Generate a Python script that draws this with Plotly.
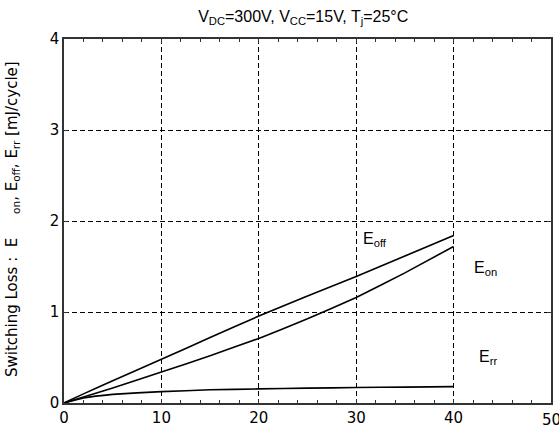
import plotly.graph_objects as go

# Collector current (A)
ic = [0, 2, 5, 10, 15, 20, 25, 30, 35, 40]
e_off = [0, 0.10, 0.245, 0.48, 0.72, 0.955, 1.175, 1.39, 1.615, 1.84]
e_on = [0, 0.065, 0.165, 0.34, 0.52, 0.71, 0.925, 1.16, 1.43, 1.72]
e_rr = [0, 0.055, 0.095, 0.125, 0.145, 0.155, 0.163, 0.17, 0.175, 0.18]

x_ticks = [0, 10, 20, 30, 40, 50]
x_labels = ["0", "10", "20", "30", "40", "50"]
y_ticks = [0, 1, 2, 3, 4]

font = "Liberation Sans, Arial, sans-serif"
wide = "DejaVu Sans, Verdana, sans-serif"

fig = go.Figure()
for ys in (e_off, e_on, e_rr):
    fig.add_trace(go.Scatter(x=ic, y=ys, mode="lines",
                             line=dict(color="black", width=1.6, shape="spline", smoothing=0.3),
                             showlegend=False, hoverinfo="skip"))

labels = [
    ("E<sub>off</sub>", 30.5, 1.80),
    ("E<sub>on</sub>", 41.9, 1.48),
    ("E<sub>rr</sub>", 42.4, 0.50),
]
for txt, x, y in labels:
    fig.add_annotation(x=x, y=y, text=txt, showarrow=False, xanchor="left", yanchor="middle",
                       font=dict(family=font, size=16, color="black"))

fig.add_annotation(xref="paper", yref="paper", x=-0.107, y=0.505, xanchor="center", yanchor="middle",
                   textangle=-90, showarrow=False,
                   text="Switching Loss :  E     <sub>on</sub>, E<sub>off</sub>, E<sub>rr</sub> [mJ/cycle]",
                   font=dict(family=wide, size=15, color="black"))

# last x tick label sits at the right edge and is partly cut, as in the reference
fig.add_annotation(x=x_ticks[-1], xref="x", yref="paper", y=0, yshift=-6, text=x_labels[-1],
                   showarrow=False, xanchor="center", yanchor="top",
                   font=dict(family=wide, size=15, color="black"))

axis_common = dict(
    showline=True, linecolor="#333", linewidth=1.5, mirror="ticks",
    ticks="inside", tickcolor="#333", tickwidth=1,
    showgrid=True, gridcolor="black", griddash="5px,3px", gridwidth=1,
    zeroline=False, tickfont=dict(family=wide, size=15, color="black"),
    automargin=False,
)

fig.update_xaxes(range=[0, 50], tickvals=x_ticks, ticktext=x_labels[:-1] + [""], ticklen=4,
                 minor=dict(dtick=2, ticks="inside", ticklen=3, tickcolor="#333", showgrid=False),
                 **axis_common)
fig.update_yaxes(range=[0, 4], tickvals=y_ticks, ticklen=4, **axis_common)

fig.update_layout(
    width=559, height=429,
    margin=dict(l=64, r=8, t=39, b=26),
    paper_bgcolor="white", plot_bgcolor="white",
    title=dict(text="V<sub>DC</sub>=300V, V<sub>CC</sub>=15V, T<sub>j</sub>=25°C",
               x=0.5425, xanchor="center", y=0.962, yanchor="middle",
               font=dict(family=font, size=16, color="black")),
)

fig.write_html("out.html", config={"displayModeBar": False},
               post_script="document.body.style.margin='0';")
